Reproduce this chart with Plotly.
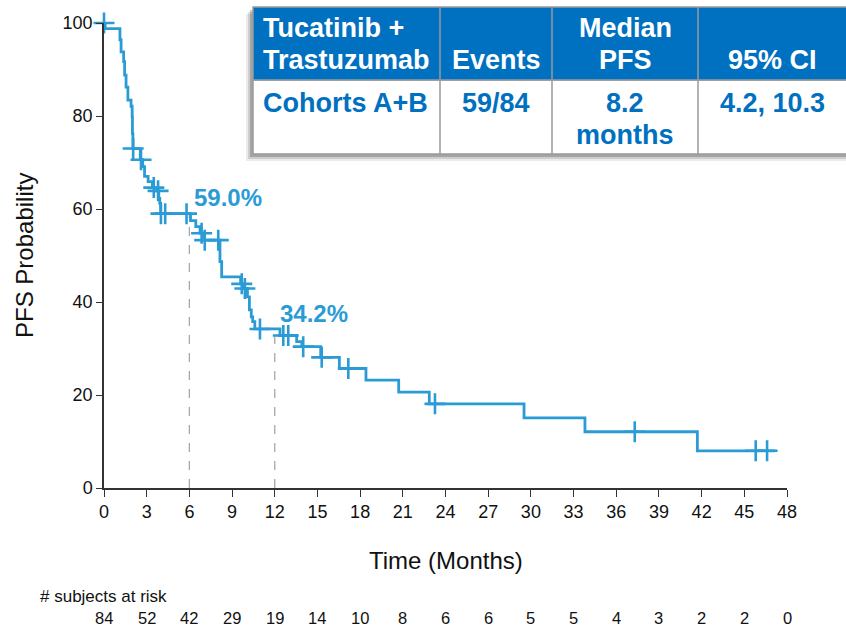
import numpy as np
import plotly.graph_objects as go

# ---------------- data ----------------
km_time = [0, 0.08, 1.12, 1.2, 1.38, 1.45, 1.55, 1.68, 1.9, 1.98, 2.0, 2.03, 2.55, 2.72,
           2.85, 3.1, 3.4, 3.7, 3.85, 3.92, 3.98, 6.08, 6.45, 6.75, 7.0, 8.15, 8.27, 9.6,
           9.82, 10.08, 10.22, 10.35, 10.45, 10.6, 12.37, 13.54, 13.9, 15.23, 16.54, 18.41,
           20.71, 22.86, 29.52, 33.8, 41.7, 47.15]
km_surv = [100, 98.8, 96.4, 93.8, 91.7, 88.8, 86.2, 83.4, 82.1, 79.8, 76.2, 73.0, 70.6, 69.1,
           67.0, 65.9, 64.6, 63.9, 62.3, 61.2, 59.0, 57.5, 56.2, 54.8, 53.3, 48.7, 45.4, 43.9,
           42.9, 41.1, 38.3, 36.8, 35.8, 34.2, 32.8, 31.5, 30.4, 28.1, 25.7, 23.2,
           20.6, 18.1, 15.1, 12.1, 8.0, 8.0]
censor_time = [0.0, 2.05, 2.6, 3.5, 3.8, 4.0, 4.3, 5.8, 6.86, 7.08, 8.03, 9.68, 9.9, 10.96,
               12.6, 12.95, 14.0, 15.3, 17.17, 23.26, 37.3, 45.8, 46.6]

landmark_time = [6, 12]
landmark_surv = [59.0, 34.2]
landmark_label = ["59.0%", "34.2%"]

x_ticks = list(range(0, 49, 3))
y_ticks = [0, 20, 40, 60, 80, 100]
at_risk = [84, 52, 42, 29, 19, 14, 10, 8, 6, 6, 5, 5, 4, 3, 2, 2, 0]

table_header = [["Tucatinib +", "Trastuzumab"], ["", "Events"], ["Median", "PFS"], ["", "95% CI"]]
table_body = [["Cohorts A+B", ""], ["59/84", ""], ["8.2", "months"], ["4.2, 10.3", ""]]

# ---------------- styling ----------------
CURVE = "#2A9BD5"
HEAD = "#0070C0"
FONT = "Liberation Sans, Arial, sans-serif"
TXT = "#111111"

W, H = 846, 626
L, R, T, B = 104, 59, 23, 138
PW, PH = W - L - R, H - T - B


def px(xp):
    return (xp - L) / PW


def py(yp):
    return (H - B - yp) / PH


def step_value(t):
    idx = np.searchsorted(np.array(km_time), t, side="right") - 1
    return km_surv[max(idx, 0)]


censor_surv = [step_value(t) for t in censor_time]

fig = go.Figure()

for lt, ls in zip(landmark_time, landmark_surv):
    fig.add_trace(go.Scatter(x=[lt, lt], y=[0, ls], mode="lines",
                             line=dict(color="#A8A8A8", width=1.3, dash="dash"),
                             hoverinfo="skip", showlegend=False))

fig.add_trace(go.Scatter(x=km_time, y=km_surv, mode="lines", line_shape="hv",
                         line=dict(color=CURVE, width=2.8), showlegend=False, cliponaxis=False))
fig.add_trace(go.Scatter(x=censor_time, y=censor_surv, mode="markers",
                         marker=dict(symbol="cross-thin", size=15,
                                     line=dict(color=CURVE, width=2.6)),
                         showlegend=False, cliponaxis=False))

annotations = []
for lt, ls, lab in zip(landmark_time, landmark_surv, landmark_label):
    annotations.append(dict(x=lt + 0.2, y=ls + 3.4, xref="x", yref="y", text="<b>%s</b>" % lab,
                            showarrow=False, xanchor="left", yanchor="middle",
                            font=dict(family=FONT, size=24, color=CURVE)))

annotations.append(dict(x=px(446), y=py(560), xref="paper", yref="paper", text="Time (Months)",
                        showarrow=False, xanchor="center", yanchor="middle",
                        font=dict(family=FONT, size=24, color=TXT)))
annotations.append(dict(x=px(24), y=py(256), xref="paper", yref="paper", text="PFS Probability",
                        showarrow=False, xanchor="center", yanchor="middle", textangle=-90,
                        font=dict(family=FONT, size=24, color=TXT)))
annotations.append(dict(x=px(38), y=py(596), xref="paper", yref="paper", text="# subjects at risk",
                        showarrow=False, xanchor="left", yanchor="middle",
                        font=dict(family=FONT, size=17, color=TXT)))
for xt, n in zip(x_ticks, at_risk):
    annotations.append(dict(x=xt, y=py(618), xref="x", yref="paper", text=str(n),
                            showarrow=False, xanchor="center", yanchor="middle",
                            font=dict(family=FONT, size=16.5, color=TXT)))

# ---------------- summary table ----------------
col_edges = [253, 440, 552, 698, 860]
row_edges = [7, 80, 154]
shapes = []
for off, op in [(7, 0.08), (5, 0.12), (3, 0.2)]:
    shapes.append(dict(type="rect", xref="paper", yref="paper", layer="above",
                       x0=px(col_edges[0] - off), x1=px(col_edges[-1]),
                       y0=py(row_edges[-1] + off), y1=py(row_edges[0] + off),
                       fillcolor="rgba(0,0,0,%s)" % op, line=dict(width=0)))
shapes.append(dict(type="rect", xref="paper", yref="paper", layer="above",
                   x0=px(col_edges[0]), x1=px(col_edges[-1]), y0=py(row_edges[2]), y1=py(row_edges[1]),
                   fillcolor="white", line=dict(color="#9A9A9A", width=1.5)))
shapes.append(dict(type="rect", xref="paper", yref="paper", layer="above",
                   x0=px(col_edges[0]), x1=px(col_edges[-1]), y0=py(row_edges[1]), y1=py(row_edges[0]),
                   fillcolor=HEAD, line=dict(color="#9A9A9A", width=1.5)))
for ce in col_edges[1:-1]:
    shapes.append(dict(type="line", xref="paper", yref="paper", layer="above",
                       x0=px(ce), x1=px(ce), y0=py(row_edges[2]), y1=py(row_edges[0]),
                       line=dict(color="#9A9A9A", width=1.5)))

col_centers = [None, 496, 625, 772]
head_line_y = [28, 60]
body_line_y = [103, 135]
for i, (hd, bd) in enumerate(zip(table_header, table_body)):
    if i == 0:
        hx, anchor = px(261), "left"
    else:
        hx, anchor = px(col_centers[i]), "center"
    for txt, ly in zip(hd, head_line_y):
        if txt:
            annotations.append(dict(x=hx, y=py(ly), xref="paper", yref="paper", text="<b>%s</b>" % txt,
                                    showarrow=False, xanchor=anchor, yanchor="middle",
                                    font=dict(family=FONT, size=27, color="white")))
    for txt, ly in zip(bd, body_line_y):
        if txt:
            annotations.append(dict(x=hx, y=py(ly), xref="paper", yref="paper", text="<b>%s</b>" % txt,
                                    showarrow=False, xanchor=anchor, yanchor="middle",
                                    font=dict(family=FONT, size=27, color=HEAD)))

fig.update_layout(
    width=W, height=H,
    margin=dict(l=L, r=R, t=T, b=B, pad=0),
    paper_bgcolor="white", plot_bgcolor="white",
    showlegend=False,
    xaxis=dict(range=[0, 48], tickmode="array", tickvals=x_ticks, ticktext=[str(v) for v in x_ticks],
               showgrid=False, zeroline=False, showline=True, linecolor="#333333", linewidth=1.5,
               ticks="outside", ticklen=7, tickcolor="#333333", tickwidth=1.3,
               tickfont=dict(family=FONT, size=18, color=TXT)),
    yaxis=dict(range=[0, 100], tickmode="array", tickvals=y_ticks,
               showgrid=False, zeroline=False, showline=True, linecolor="#333333", linewidth=1.5,
               ticks="outside", ticklen=6, tickcolor="#333333", tickwidth=1.3,
               tickfont=dict(family=FONT, size=18, color=TXT)),
    shapes=shapes,
    annotations=annotations,
)

fig.write_html("out.html", config={"displayModeBar": False},
               post_script="document.body.style.margin='0px';")
